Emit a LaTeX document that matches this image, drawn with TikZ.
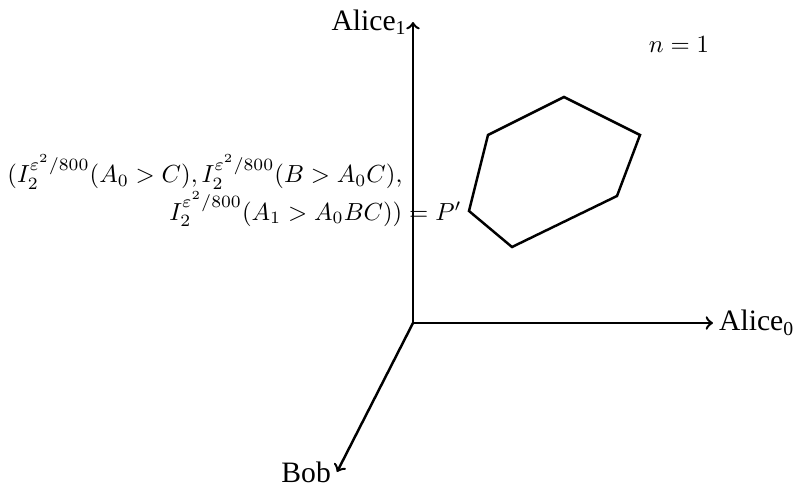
\documentclass[tikz,border=0pt]{standalone}
\usepackage[no-math]{fontspec}
\setmainfont{Liberation Serif}
\begin{document}
\begin{tikzpicture}[x=0.405pt,y=-0.405pt,
  axis/.style={line width=1pt,->},
  poly/.style={line width=1pt,line join=miter},
  axlabel/.style={font=\fontsize{12}{14}\selectfont,inner sep=2pt}]
\useasboundingbox (0,0) rectangle (802,487);
\coordinate (O) at (413,323);
\coordinate (A1) at (413,22);
\coordinate (A0) at (713,323);
\coordinate (B) at (337,472);
\draw[axis] (O) -- (A1) node[axlabel,left] (la1) {Alice\textsubscript{1}};
\draw[axis] (O) -- (A0) node[axlabel,right] (la0) {Alice\textsubscript{0}};
\draw[axis] (O) -- (B) node[axlabel,left] (lb) {Bob};
\coordinate (p1) at (488,135);
\coordinate (p2) at (564,97);
\coordinate (p3) at (640,135);
\coordinate (p4) at (617,196);
\coordinate (p5) at (512,247);
\coordinate (p6) at (469,211);
\draw[poly] (p1) -- (p2) -- (p3) -- (p4) -- (p5) -- (p6) -- cycle;
\node[anchor=base east,inner sep=0pt] (lp) at (462,220) {$\begin{array}[b]{@{}r@{}}
(I_2^{\varepsilon^2/800}(A_0>C), I_2^{\varepsilon^2/800}(B>A_0C),\\
I_2^{\varepsilon^2/800}(A_1>A_0BC))
\end{array} = P'$};
\node (n) at (679,45) {$n=1$};
\end{tikzpicture}
\end{document}
